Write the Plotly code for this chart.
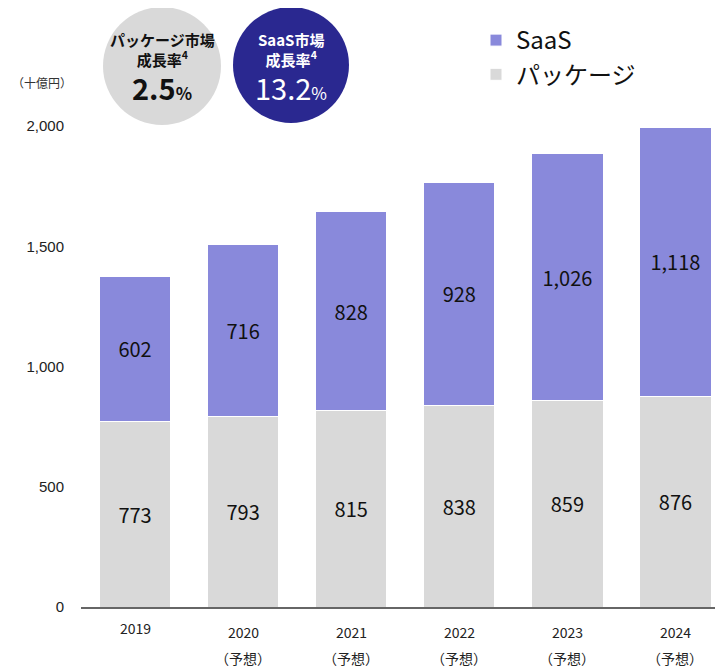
import plotly.graph_objects as go

years = ["2019", "2020", "2021", "2022", "2023", "2024"]
forecast = [False, True, True, True, True, True]
package = [773, 793, 815, 838, 859, 876]
saas = [602, 716, 828, 928, 1026, 1118]
y_ticks = [0, 500, 1000, 1500, 2000]

FONT = "Noto Sans CJK JP"
C_SAAS = "#8989DB"
C_PKG = "#D9D9D9"
C_NAVY = "#2A2890"

fig = go.Figure()
fig.add_trace(go.Bar(
    x=years, y=package, name="パッケージ", marker_color=C_PKG,
    marker_line=dict(color="white", width=1), width=0.66,
    texttemplate="%{y:,}", textposition="inside", insidetextanchor="middle",
    textfont=dict(size=20, color="#111111"), legendgroup="pkg", legendrank=2,
))
fig.add_trace(go.Bar(
    x=years, y=saas, name="SaaS", marker_color=C_SAAS,
    marker_line=dict(color="white", width=1), width=0.66,
    texttemplate="%{y:,}", textposition="inside", insidetextanchor="middle",
    textfont=dict(size=20, color="#111111"), legendgroup="saas", legendrank=1,
))

# page is drawn 8px in from the corner, so the figure is 8px smaller
# plot area (page px): 81..723 horizontally, 110..607 vertically
def px(x):
    return (x - 81) / 642

def py(y):
    return (607 - y) / 497

# 横軸ラベル (category index: "2019" etc. would be read as numbers)
for i, (yr, fc) in enumerate(zip(years, forecast)):
    if fc:
        fig.add_annotation(x=i, xref="x", y=py(632), yref="paper", text=yr, showarrow=False,
                           xanchor="center", yanchor="middle", font=dict(size=14, color="#222"))
        fig.add_annotation(x=i, xref="x", y=py(658), yref="paper", text="（予想）",
                           showarrow=False, xanchor="center", yanchor="middle",
                           font=dict(size=14, color="#222"))
    else:
        fig.add_annotation(x=i, xref="x", y=py(628), yref="paper", text=yr, showarrow=False,
                           xanchor="center", yanchor="middle", font=dict(size=14, color="#222"))

fig.add_shape(type="circle", xref="paper", yref="paper",
              x0=px(103), x1=px(221), y0=py(125), y1=py(7),
              fillcolor=C_PKG, line_width=0)
fig.add_shape(type="circle", xref="paper", yref="paper",
              x0=px(233), x1=px(349), y0=py(123), y1=py(7),
              fillcolor=C_NAVY, line_width=0)

circ = [
    (162, "#111111", "パッケージ市場", "2.5", True),
    (291, "#FFFFFF", "SaaS市場", "13.2", False),
]
for cx, col, title, rate, bold in circ:
    fig.add_annotation(xref="paper", yref="paper", x=px(cx), y=py(49.5),
                       text=f"<b>{title}<br>成長率<sup>4</sup></b>",
                       xanchor="center", yanchor="middle",
                       showarrow=False, font=dict(size=15, color=col))
    t = f"{rate}<span style='font-size:17px'>%</span>"
    if bold:
        t = f"<b>{t}</b>"
    fig.add_annotation(xref="paper", yref="paper", x=px(cx), y=py(87), text=t,
                       xanchor="center", yanchor="middle",
                       showarrow=False, font=dict(size=29, color=col))

fig.add_annotation(xref="paper", yref="paper", x=px(10), y=py(83), xanchor="left",
                   yanchor="middle", text="（十億円）", showarrow=False,
                   font=dict(size=12, color="#333"))

fig.update_layout(
    width=715, height=659,
    margin=dict(l=73, r=0, t=102, b=60, pad=0),
    barmode="stack",
    paper_bgcolor="white", plot_bgcolor="white",
    font=dict(family=FONT, color="#222"),
    showlegend=True,
    legend=dict(x=px(476), y=py(18), xanchor="left", yanchor="top",
                traceorder="grouped", tracegroupgap=0,
                font=dict(size=24, color="#111"), bgcolor="rgba(0,0,0,0)"),
    xaxis=dict(type="category", range=[-0.5, 5.44], showticklabels=False, showline=True,
               linecolor="#666", linewidth=2, showgrid=False, ticks=""),
    yaxis=dict(range=[0, 2066.5], tickvals=y_ticks, tickformat=",", showgrid=False,
               zeroline=False, showline=False, ticks="", ticklabelstandoff=16,
               tickfont=dict(size=15, family="Liberation Sans", color="#222")),
)

fig.write_html("out.html")
